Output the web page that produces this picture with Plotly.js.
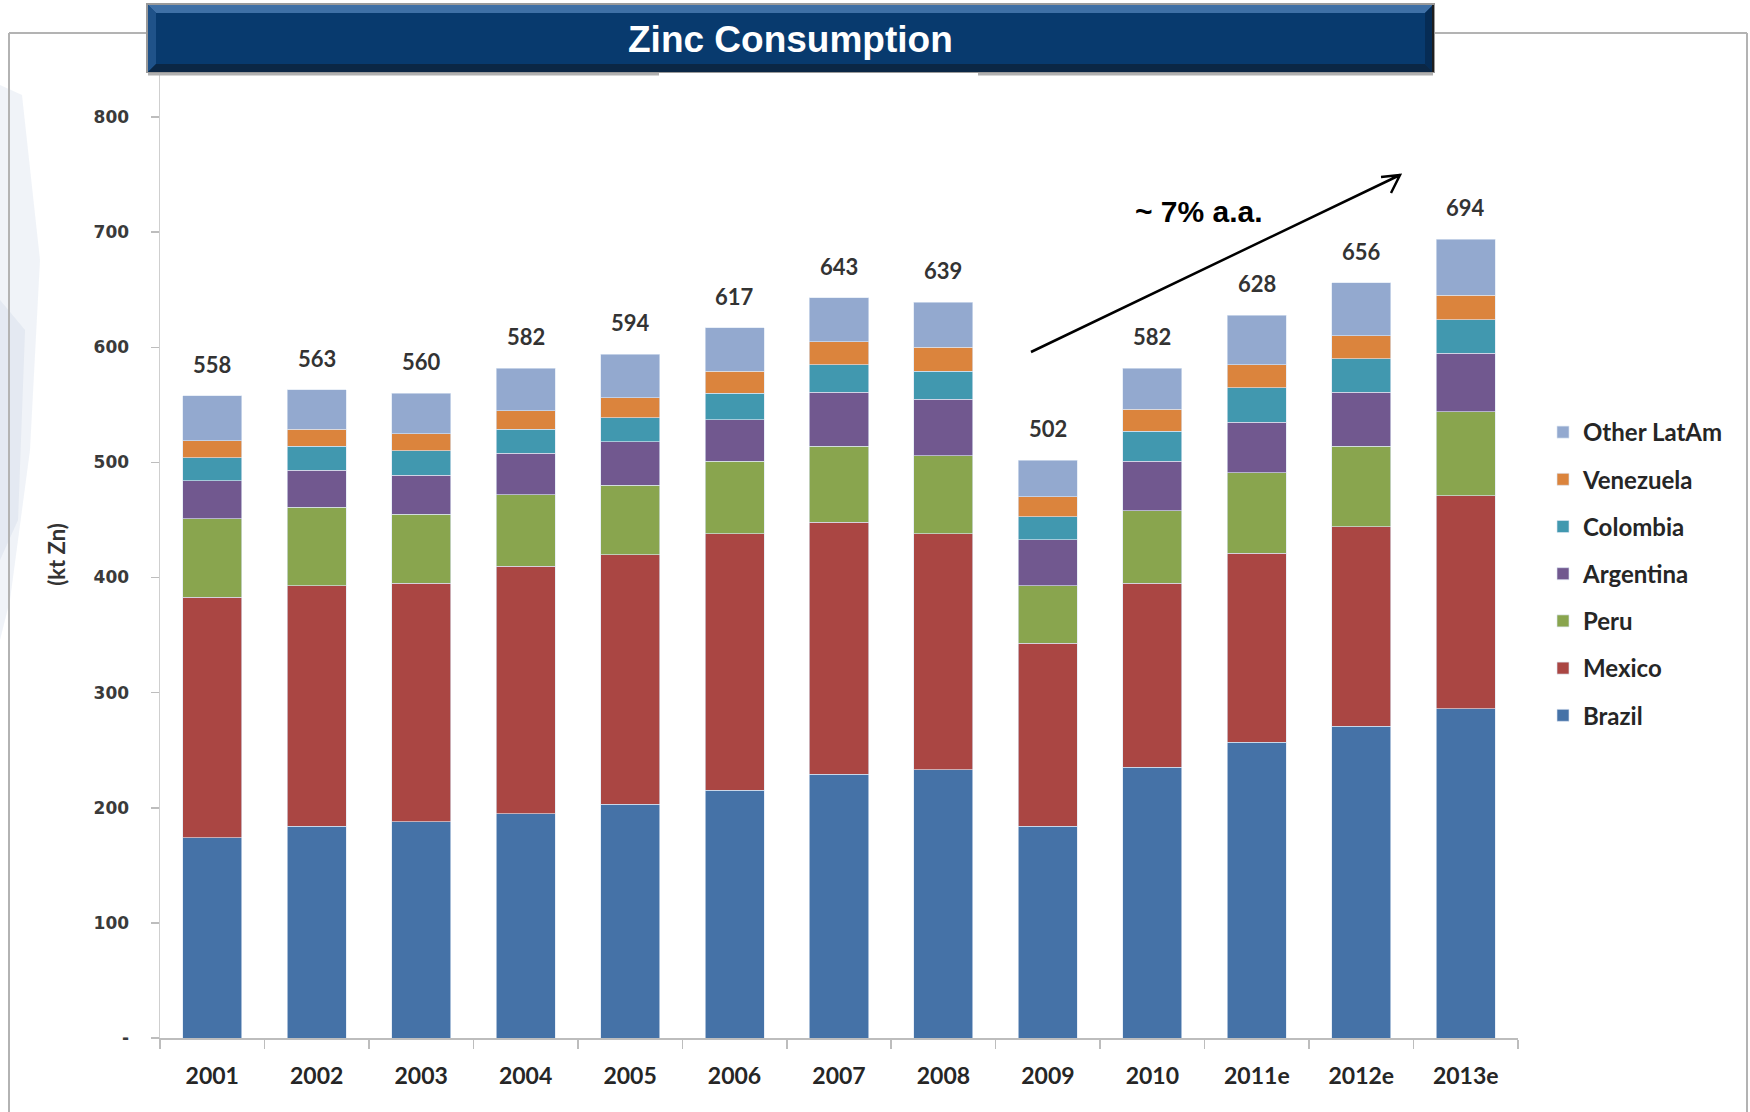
<!DOCTYPE html>
<html>
<head>
<meta charset="utf-8">
<script src="https://cdn.plot.ly/plotly-3.0.1.min.js"></script>
<style>
  html, body { margin: 0; padding: 0; background: #ffffff; }
  #chart { width: 1750px; height: 1112px; }
</style>
</head>
<body>
<div id="chart"></div>
<script>
// ---- Data (kt Zn) ----
const years = ['2001','2002','2003','2004','2005','2006','2007','2008','2009','2010','2011e','2012e','2013e'];
const brazil    = [174, 184, 188, 195, 203, 215, 229, 233, 184, 235, 257, 271, 286];
const mexico    = [209, 209, 207, 215, 217, 223, 219, 205, 159, 160, 164, 173, 185];
const peru      = [ 68,  68,  60,  62,  60,  63,  66,  68,  50,  63,  70,  70,  73];
const argentina = [ 33,  32,  34,  36,  38,  36,  47,  49,  40,  43,  44,  47,  51];
const colombia  = [ 20,  21,  21,  21,  21,  23,  24,  24,  20,  26,  30,  29,  29];
const venezuela = [ 15,  15,  15,  16,  17,  19,  20,  21,  17,  19,  20,  20,  21];
const otherLatAm= [ 39,  34,  35,  37,  38,  38,  38,  39,  32,  36,  43,  46,  49];
const totals    = [558, 563, 560, 582, 594, 617, 643, 639, 502, 582, 628, 656, 694];
const yTickVals = [0, 100, 200, 300, 400, 500, 600, 700, 800];
const yTickText = ['-', '100', '200', '300', '400', '500', '600', '700', '800'];

const seriesNames  = ['Brazil','Mexico','Peru','Argentina','Colombia','Venezuela','Other LatAm'];
const seriesValues = [brazil, mexico, peru, argentina, colombia, venezuela, otherLatAm];
const seriesColors = ['#4572A7','#AA4643','#89A54E','#71588F','#4198AF','#DB843D','#93A9CF'];

// ---- Geometry helpers (page pixels -> paper) for decorations ----
const M = {l:160, r:232, t:71, b:74};
const W = 1750, H = 1112;
const PW = W - M.l - M.r, PH = H - M.t - M.b;
const px = x => (x - M.l) / PW;
const py = y => (H - M.b - y) / PH;

const traces = seriesNames.map((name, i) => ({
  type: 'bar',
  name: name,
  x: years,
  y: seriesValues[i],
  legendgroup: name,
  legendrank: seriesNames.length - i,
  marker: {color: seriesColors[i], line: {color: 'rgba(220,230,242,0.8)', width: 0.8}},
  hoverinfo: 'x+y+name'
}));

// total labels: x given as category index so the category axis is not confused by numeric-looking names
const annotations = years.map((yr, i) => ({
  x: i, y: totals[i], xref: 'x', yref: 'y',
  text: String(totals[i]), showarrow: false,
  yanchor: 'bottom', yshift: 16,
  font: {family: 'Lato, sans-serif', size: 22, color: '#333333', weight: 700}
}));

annotations.push({
  xref: 'paper', yref: 'paper', x: px(790), y: py(40),
  text: 'Zinc Consumption', showarrow: false,
  xanchor: 'center', yanchor: 'middle',
  font: {family: 'Liberation Sans, Arial, sans-serif', size: 37, color: '#ffffff', weight: 700}
});
annotations.push({
  xref: 'paper', yref: 'paper', x: px(1199), y: py(212),
  text: '~ 7% a.a.', showarrow: false,
  xanchor: 'center', yanchor: 'middle',
  font: {family: 'Liberation Sans, Arial, sans-serif', size: 30, color: '#000000', weight: 700}
});

function poly(pts, fill, layer) {
  const d = 'M' + pts.map(p => px(p[0]) + ',' + py(p[1])).join(' L') + ' Z';
  return {type: 'path', xref: 'paper', yref: 'paper', path: d, fillcolor: fill, line: {width: 0}, layer: layer || 'above'};
}
function seg(x0, y0, x1, y1, color, width, layer) {
  return {type: 'line', xref: 'paper', yref: 'paper', x0: px(x0), y0: py(y0), x1: px(x1), y1: py(y1),
          line: {color: color, width: width}, layer: layer || 'above'};
}

const shapes = [
  // faint background swoosh on left
  poly([[0,85],[22,95],[40,260],[30,450],[10,600],[0,640]], 'rgba(205,216,232,0.30)', 'below'),
  poly([[0,300],[25,330],[18,520],[0,560]], 'rgba(190,204,224,0.25)', 'below'),
  // outer frame
  seg(9, 33, 1747, 33, '#b3b3b3', 2, 'below'),
  seg(9, 33, 9, 1112, '#b3b3b3', 2, 'below'),
  seg(1747, 33, 1747, 1112, '#b3b3b3', 2, 'below'),
  // banner shadow
  seg(148, 74, 659, 74, '#b0b0b0', 3),
  seg(978, 74, 1433, 74, '#b0b0b0', 3),
  // banner
  poly([[146,3],[1435,3],[1435,73],[146,73]], '#9a9a9a'),
  poly([[148,5],[1433,5],[1433,72],[148,72]], '#083a6e'),
  poly([[148,5],[1433,5],[1425,13],[156,13]], '#3f70a6'),
  poly([[148,5],[156,13],[156,64],[148,72]], '#1f5289'),
  poly([[1433,5],[1425,13],[1425,64],[1433,72]], '#062c55'),
  poly([[148,72],[156,64],[1425,64],[1433,72]], '#0b2745'),
  seg(1433, 5, 1433, 72, '#1e1e1e', 2),
  // growth arrow
  {type: 'path', xref: 'paper', yref: 'paper',
   path: 'M' + px(1031) + ',' + py(352) + ' L' + px(1400) + ',' + py(175) +
         ' M' + px(1381) + ',' + py(177) + ' L' + px(1400) + ',' + py(175) + ' L' + px(1391) + ',' + py(193),
   line: {color: '#000000', width: 2.5}, layer: 'above'}
];

const layout = {
  width: W, height: H,
  margin: M,
  paper_bgcolor: '#ffffff',
  plot_bgcolor: 'rgba(0,0,0,0)',
  barmode: 'stack',
  bargap: 0.435,
  showlegend: true,
  legend: {
    x: px(1543), y: py(410), xanchor: 'left', yanchor: 'top',
    traceorder: 'grouped', tracegroupgap: 13,
    font: {family: 'Lato, sans-serif', size: 24, color: '#262626', weight: 700},
    bgcolor: 'rgba(0,0,0,0)'
  },
  xaxis: {
    type: 'category',
    range: [-0.5, years.length - 0.5],
    autorange: false,
    showline: true, linecolor: '#bdbdbd', linewidth: 1.5,
    ticks: 'outside', tickson: 'boundaries', ticklen: 9, tickcolor: '#bdbdbd', tickwidth: 1.5,
    ticklabelstandoff: 17, tickangle: 0,
    tickfont: {family: 'Lato, sans-serif', size: 23, color: '#262626', weight: 700},
    showgrid: false, zeroline: false, fixedrange: true
  },
  yaxis: {
    range: [0, 840],
    tickvals: yTickVals, ticktext: yTickText,
    showline: true, linecolor: '#cfcfcf', linewidth: 1.5,
    ticks: 'outside', ticklen: 8, tickcolor: '#bdbdbd', tickwidth: 1.5,
    ticklabelstandoff: 18,
    tickfont: {family: 'DejaVu Sans, Verdana, sans-serif', size: 17, color: '#3a3a3a', weight: 700},
    showgrid: false, zeroline: false, fixedrange: true,
    title: {text: '(kt Zn)', standoff: 22,
            font: {family: 'Lato, sans-serif', size: 22, color: '#333333', weight: 700}}
  },
  annotations: annotations,
  shapes: shapes
};

Plotly.newPlot('chart', traces, layout, {displayModeBar: false, staticPlot: true});
</script>
</body>
</html>
